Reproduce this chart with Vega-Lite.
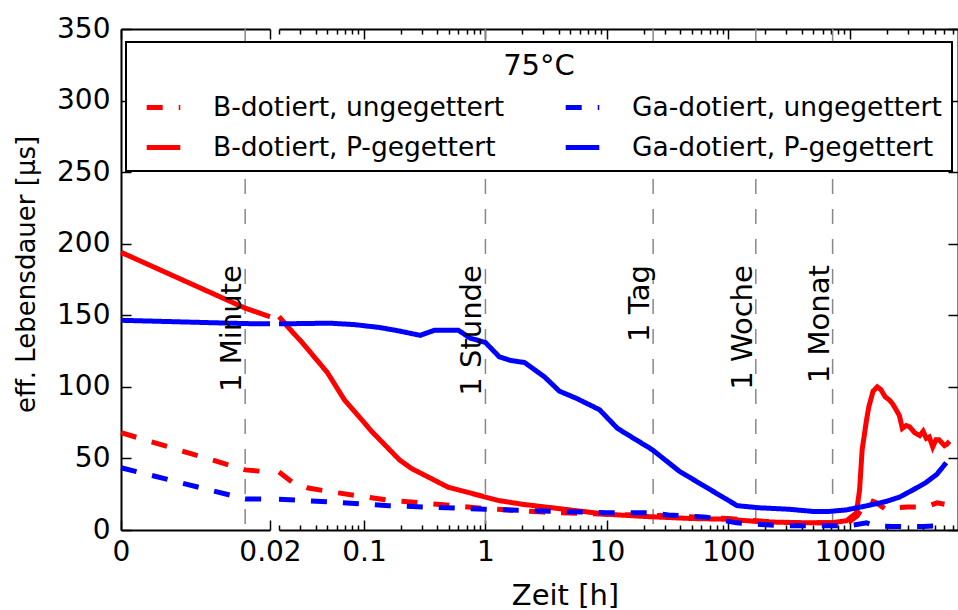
{
  "$schema": "https://vega.github.io/schema/vega-lite/v6.json",
  "padding": {"left": 13, "top": 15, "right": 0, "bottom": 0},
  "background": "white",
  "bounds": "flush",
  "spacing": 9,
  "config": {
    "font": "DejaVu Sans",
    "view": {"stroke": null},
    "axis": {
      "labelFont": "DejaVu Sans", "titleFont": "DejaVu Sans",
      "labelFontSize": 28, "titleFontSize": 29, "titleFontWeight": "normal",
      "labelColor": "black", "titleColor": "black",
      "domainColor": "black", "domainWidth": 2,
      "tickColor": "black", "tickWidth": 1.5,
      "grid": false, "labelFlush": false, "labelOverlap": false
    },
    "legend": {
      "titleFont": "DejaVu Sans", "titleFontSize": 29, "titleFontWeight": "normal", "titleColor": "black",
      "titleAnchor": "middle", "titleAlign": "center", "titlePadding": 7,
      "labelFont": "DejaVu Sans", "labelFontSize": 26.5, "labelColor": "black", "labelOffset": 30, "labelLimit": 0,
      "symbolType": "stroke", "symbolSize": 1129, "symbolStrokeWidth": 5, "symbolOffset": 8,
      "columnPadding": 50, "rowPadding": 7, "padding": 10,
      "fillColor": "white", "strokeColor": "black", "strokeWidth": 2, "cornerRadius": 0
    }
  },
  "datasets": {
    "events": [
      {"t": 0.0166667, "label": "1 Minute"},
      {"t": 1, "label": "1 Stunde"},
      {"t": 24, "label": "1 Tag"},
      {"t": 168, "label": "1 Woche"},
      {"t": 720, "label": "1 Monat"}
    ],
    "curves": [
      {"s": "B-dotiert, P-gegettert", "t": 0, "v": 194},
      {"s": "B-dotiert, P-gegettert", "t": 0.0166667, "v": 155},
      {"s": "B-dotiert, P-gegettert", "t": 0.02, "v": 149},
      {"s": "B-dotiert, P-gegettert", "t": 0.026, "v": 138},
      {"s": "B-dotiert, P-gegettert", "t": 0.031, "v": 131},
      {"s": "B-dotiert, P-gegettert", "t": 0.05, "v": 110},
      {"s": "B-dotiert, P-gegettert", "t": 0.069, "v": 91},
      {"s": "B-dotiert, P-gegettert", "t": 0.117, "v": 68.5},
      {"s": "B-dotiert, P-gegettert", "t": 0.196, "v": 49},
      {"s": "B-dotiert, P-gegettert", "t": 0.246, "v": 43},
      {"s": "B-dotiert, P-gegettert", "t": 0.49, "v": 30},
      {"s": "B-dotiert, P-gegettert", "t": 1, "v": 23},
      {"s": "B-dotiert, P-gegettert", "t": 1.3, "v": 20.5},
      {"s": "B-dotiert, P-gegettert", "t": 2, "v": 18},
      {"s": "B-dotiert, P-gegettert", "t": 5, "v": 14},
      {"s": "B-dotiert, P-gegettert", "t": 10, "v": 11},
      {"s": "B-dotiert, P-gegettert", "t": 20, "v": 9.5},
      {"s": "B-dotiert, P-gegettert", "t": 50, "v": 8},
      {"s": "B-dotiert, P-gegettert", "t": 100, "v": 7.5},
      {"s": "B-dotiert, P-gegettert", "t": 180, "v": 5.8},
      {"s": "B-dotiert, P-gegettert", "t": 400, "v": 5},
      {"s": "B-dotiert, P-gegettert", "t": 700, "v": 5},
      {"s": "B-dotiert, P-gegettert", "t": 940, "v": 6.5},
      {"s": "B-dotiert, P-gegettert", "t": 1130, "v": 12},
      {"s": "B-dotiert, P-gegettert", "t": 1200, "v": 28},
      {"s": "B-dotiert, P-gegettert", "t": 1260, "v": 56},
      {"s": "B-dotiert, P-gegettert", "t": 1370, "v": 77},
      {"s": "B-dotiert, P-gegettert", "t": 1430, "v": 86},
      {"s": "B-dotiert, P-gegettert", "t": 1550, "v": 97},
      {"s": "B-dotiert, P-gegettert", "t": 1680, "v": 100},
      {"s": "B-dotiert, P-gegettert", "t": 1800, "v": 98},
      {"s": "B-dotiert, P-gegettert", "t": 1950, "v": 93},
      {"s": "B-dotiert, P-gegettert", "t": 2100, "v": 91},
      {"s": "B-dotiert, P-gegettert", "t": 2250, "v": 88},
      {"s": "B-dotiert, P-gegettert", "t": 2400, "v": 84},
      {"s": "B-dotiert, P-gegettert", "t": 2550, "v": 80},
      {"s": "B-dotiert, P-gegettert", "t": 2700, "v": 71},
      {"s": "B-dotiert, P-gegettert", "t": 2900, "v": 73},
      {"s": "B-dotiert, P-gegettert", "t": 3100, "v": 72},
      {"s": "B-dotiert, P-gegettert", "t": 3400, "v": 68},
      {"s": "B-dotiert, P-gegettert", "t": 3750, "v": 66},
      {"s": "B-dotiert, P-gegettert", "t": 4000, "v": 69},
      {"s": "B-dotiert, P-gegettert", "t": 4250, "v": 64},
      {"s": "B-dotiert, P-gegettert", "t": 4500, "v": 65},
      {"s": "B-dotiert, P-gegettert", "t": 4800, "v": 58},
      {"s": "B-dotiert, P-gegettert", "t": 5100, "v": 63},
      {"s": "B-dotiert, P-gegettert", "t": 5400, "v": 63},
      {"s": "B-dotiert, P-gegettert", "t": 5700, "v": 61},
      {"s": "B-dotiert, P-gegettert", "t": 6000, "v": 59},
      {"s": "B-dotiert, P-gegettert", "t": 6300, "v": 60},
      {"s": "B-dotiert, P-gegettert", "t": 6600, "v": 62},

      {"s": "B-dotiert, ungegettert", "t": 0, "v": 68},
      {"s": "B-dotiert, ungegettert", "t": 0.0166667, "v": 42},
      {"s": "B-dotiert, ungegettert", "t": 0.02, "v": 40.5},
      {"s": "B-dotiert, ungegettert", "t": 0.026, "v": 33},
      {"s": "B-dotiert, ungegettert", "t": 0.034, "v": 29.5},
      {"s": "B-dotiert, ungegettert", "t": 0.055, "v": 26.5},
      {"s": "B-dotiert, ungegettert", "t": 0.153, "v": 21},
      {"s": "B-dotiert, ungegettert", "t": 0.4, "v": 18},
      {"s": "B-dotiert, ungegettert", "t": 1, "v": 15},
      {"s": "B-dotiert, ungegettert", "t": 3, "v": 12.5},
      {"s": "B-dotiert, ungegettert", "t": 10, "v": 11},
      {"s": "B-dotiert, ungegettert", "t": 30, "v": 10},
      {"s": "B-dotiert, ungegettert", "t": 100, "v": 8},
      {"s": "B-dotiert, ungegettert", "t": 200, "v": 6},
      {"s": "B-dotiert, ungegettert", "t": 400, "v": 5},
      {"s": "B-dotiert, ungegettert", "t": 800, "v": 5},
      {"s": "B-dotiert, ungegettert", "t": 1000, "v": 6},
      {"s": "B-dotiert, ungegettert", "t": 1150, "v": 10},
      {"s": "B-dotiert, ungegettert", "t": 1300, "v": 17},
      {"s": "B-dotiert, ungegettert", "t": 1450, "v": 21},
      {"s": "B-dotiert, ungegettert", "t": 1650, "v": 19},
      {"s": "B-dotiert, ungegettert", "t": 2000, "v": 14},
      {"s": "B-dotiert, ungegettert", "t": 2400, "v": 15.5},
      {"s": "B-dotiert, ungegettert", "t": 3000, "v": 16},
      {"s": "B-dotiert, ungegettert", "t": 4000, "v": 16},
      {"s": "B-dotiert, ungegettert", "t": 4500, "v": 17},
      {"s": "B-dotiert, ungegettert", "t": 5200, "v": 19},
      {"s": "B-dotiert, ungegettert", "t": 6000, "v": 18},

      {"s": "Ga-dotiert, ungegettert", "t": 0, "v": 43.5},
      {"s": "Ga-dotiert, ungegettert", "t": 0.0166667, "v": 21.7},
      {"s": "Ga-dotiert, ungegettert", "t": 0.02, "v": 21.5},
      {"s": "Ga-dotiert, ungegettert", "t": 0.055, "v": 19.5},
      {"s": "Ga-dotiert, ungegettert", "t": 0.16, "v": 17},
      {"s": "Ga-dotiert, ungegettert", "t": 1, "v": 14.5},
      {"s": "Ga-dotiert, ungegettert", "t": 10, "v": 12},
      {"s": "Ga-dotiert, ungegettert", "t": 24, "v": 12},
      {"s": "Ga-dotiert, ungegettert", "t": 32, "v": 10.5},
      {"s": "Ga-dotiert, ungegettert", "t": 66, "v": 9},
      {"s": "Ga-dotiert, ungegettert", "t": 116, "v": 5},
      {"s": "Ga-dotiert, ungegettert", "t": 260, "v": 3},
      {"s": "Ga-dotiert, ungegettert", "t": 700, "v": 3},
      {"s": "Ga-dotiert, ungegettert", "t": 1000, "v": 3},
      {"s": "Ga-dotiert, ungegettert", "t": 1370, "v": 5},
      {"s": "Ga-dotiert, ungegettert", "t": 1600, "v": 3},
      {"s": "Ga-dotiert, ungegettert", "t": 2200, "v": 2.5},
      {"s": "Ga-dotiert, ungegettert", "t": 4000, "v": 2.5},
      {"s": "Ga-dotiert, ungegettert", "t": 6000, "v": 3},

      {"s": "Ga-dotiert, P-gegettert", "t": 0, "v": 146.5},
      {"s": "Ga-dotiert, P-gegettert", "t": 0.0166667, "v": 144.2},
      {"s": "Ga-dotiert, P-gegettert", "t": 0.02, "v": 144},
      {"s": "Ga-dotiert, P-gegettert", "t": 0.052, "v": 144.5},
      {"s": "Ga-dotiert, P-gegettert", "t": 0.083, "v": 143.5},
      {"s": "Ga-dotiert, P-gegettert", "t": 0.134, "v": 141.5},
      {"s": "Ga-dotiert, P-gegettert", "t": 0.196, "v": 139},
      {"s": "Ga-dotiert, P-gegettert", "t": 0.29, "v": 136},
      {"s": "Ga-dotiert, P-gegettert", "t": 0.38, "v": 139.5},
      {"s": "Ga-dotiert, P-gegettert", "t": 0.6, "v": 139.5},
      {"s": "Ga-dotiert, P-gegettert", "t": 0.75, "v": 134},
      {"s": "Ga-dotiert, P-gegettert", "t": 1, "v": 131},
      {"s": "Ga-dotiert, P-gegettert", "t": 1.3, "v": 121},
      {"s": "Ga-dotiert, P-gegettert", "t": 1.6, "v": 118.5},
      {"s": "Ga-dotiert, P-gegettert", "t": 2.1, "v": 117},
      {"s": "Ga-dotiert, P-gegettert", "t": 3.06, "v": 107},
      {"s": "Ga-dotiert, P-gegettert", "t": 4.06, "v": 97},
      {"s": "Ga-dotiert, P-gegettert", "t": 5.6, "v": 92},
      {"s": "Ga-dotiert, P-gegettert", "t": 8.7, "v": 84},
      {"s": "Ga-dotiert, P-gegettert", "t": 12.2, "v": 71},
      {"s": "Ga-dotiert, P-gegettert", "t": 23.7, "v": 56},
      {"s": "Ga-dotiert, P-gegettert", "t": 39.5, "v": 41},
      {"s": "Ga-dotiert, P-gegettert", "t": 118, "v": 17},
      {"s": "Ga-dotiert, P-gegettert", "t": 180, "v": 15.5},
      {"s": "Ga-dotiert, P-gegettert", "t": 316, "v": 14.5},
      {"s": "Ga-dotiert, P-gegettert", "t": 490, "v": 13},
      {"s": "Ga-dotiert, P-gegettert", "t": 680, "v": 13},
      {"s": "Ga-dotiert, P-gegettert", "t": 930, "v": 14},
      {"s": "Ga-dotiert, P-gegettert", "t": 1390, "v": 17},
      {"s": "Ga-dotiert, P-gegettert", "t": 2000, "v": 20},
      {"s": "Ga-dotiert, P-gegettert", "t": 2560, "v": 23},
      {"s": "Ga-dotiert, P-gegettert", "t": 3300, "v": 28},
      {"s": "Ga-dotiert, P-gegettert", "t": 4200, "v": 33},
      {"s": "Ga-dotiert, P-gegettert", "t": 5200, "v": 39},
      {"s": "Ga-dotiert, P-gegettert", "t": 6200, "v": 47}
    ]
  },
  "hconcat": [
    {
      "width": 149,
      "height": 501,
      "layer": [
        {
          "data": {"name": "events"},
          "transform": [{"filter": "datum.t < 0.02"}],
          "mark": {"type": "rule", "stroke": "#888888", "strokeWidth": 1.5, "strokeDash": [15, 15]},
          "encoding": {
            "x": {"field": "t", "type": "quantitative",
                  "scale": {"domain": [0, 0.02], "nice": false, "zero": false},
                  "axis": {"orient": "top", "values": [0, 0.02], "labels": false, "tickSize": -10, "title": null}}
          }
        },
        {
          "data": {"name": "curves"},
          "transform": [{"filter": "datum.t <= 0.02"}],
          "mark": {"type": "line", "strokeWidth": 5, "strokeCap": "butt"},
          "encoding": {
            "x": {"field": "t", "type": "quantitative",
                  "axis": {"orient": "bottom", "values": [0, 0.02], "labelExpr": "format(datum.value, '~g')", "tickSize": -10, "labelPadding": 18, "title": null}},
            "y": {"field": "v", "type": "quantitative",
                  "scale": {"domain": [0, 350], "nice": false},
                  "axis": {"orient": "left", "values": [0, 50, 100, 150, 200, 250, 300, 350], "tickSize": -10, "labelPadding": 21,
                           "title": "eff. Lebensdauer [µs]", "titleFontSize": 26, "titleX": -87, "titleY": 245, "titleBaseline": "alphabetic"}},
            "color": {"field": "s", "type": "nominal",
                      "scale": {"domain": ["B-dotiert, ungegettert", "B-dotiert, P-gegettert", "Ga-dotiert, ungegettert", "Ga-dotiert, P-gegettert"],
                                "range": ["#ff0000", "#ff0000", "#0000ff", "#0000ff"]},
                      "legend": {"title": "75°C", "orient": "none", "legendX": 5, "legendY": 13, "columns": 2}},
            "strokeDash": {"field": "s", "type": "nominal",
                      "scale": {"domain": ["B-dotiert, ungegettert", "B-dotiert, P-gegettert", "Ga-dotiert, ungegettert", "Ga-dotiert, P-gegettert"],
                                "range": [[16, 16], [1, 0], [16, 16], [1, 0]]},
                      "legend": {"title": "75°C", "orient": "none", "legendX": 5, "legendY": 13, "columns": 2}}
          }
        },
        {
          "data": {"name": "events"},
          "transform": [{"filter": "datum.t < 0.02"}],
          "mark": {"type": "text", "angle": 270, "align": "right", "baseline": "alphabetic", "dy": -4, "fontSize": 29, "font": "DejaVu Sans", "color": "black"},
          "encoding": {
            "x": {"field": "t", "type": "quantitative", "axis": null},
            "y": {"datum": 185, "type": "quantitative"},
            "text": {"field": "label"}
          }
        }
      ],
      "resolve": {"axis": {"x": "independent"}}
    },
    {
      "width": 679,
      "height": 501,
      "layer": [
        {
          "data": {"name": "events"},
          "transform": [{"filter": "datum.t > 0.02"}],
          "mark": {"type": "rule", "stroke": "#888888", "strokeWidth": 1.5, "strokeDash": [15, 15]},
          "encoding": {
            "x": {"field": "t", "type": "quantitative",
                  "scale": {"type": "log", "domain": [0.02, 7750], "nice": false},
                  "axis": {"orient": "top", "labels": false, "title": null,
                           "values": [0.02,0.03,0.04,0.05,0.06,0.07,0.08,0.09,0.1,0.2,0.3,0.4,0.5,0.6,0.7,0.8,0.9,1,2,3,4,5,6,7,8,9,10,20,30,40,50,60,70,80,90,100,200,300,400,500,600,700,800,900,1000,2000,3000,4000,5000,6000,7000],
                           "tickSize": {"condition": {"test": "indexof([0.1,1,10,100,1000], datum.value) >= 0", "value": -10}, "value": -5}}}
          }
        },
        {
          "data": {"name": "curves"},
          "transform": [{"filter": "datum.t >= 0.02"}],
          "mark": {"type": "line", "strokeWidth": 5, "strokeCap": "butt"},
          "encoding": {
            "x": {"field": "t", "type": "quantitative",
                  "axis": {"orient": "bottom",
                           "values": [0.02,0.03,0.04,0.05,0.06,0.07,0.08,0.09,0.1,0.2,0.3,0.4,0.5,0.6,0.7,0.8,0.9,1,2,3,4,5,6,7,8,9,10,20,30,40,50,60,70,80,90,100,200,300,400,500,600,700,800,900,1000,2000,3000,4000,5000,6000,7000],
                           "labelExpr": "indexof([0.1,1,10,100,1000], datum.value) >= 0 ? format(datum.value, '~g') : ''",
                           "tickSize": {"condition": {"test": "indexof([0.1,1,10,100,1000], datum.value) >= 0", "value": -10}, "value": -5},
                           "labelPadding": 18,
                           "title": "Zeit [h]", "titleX": 286, "titleY": 74, "titleAlign": "center", "titleBaseline": "alphabetic"}},
            "y": {"field": "v", "type": "quantitative",
                  "scale": {"domain": [0, 350], "nice": false},
                  "axis": {"orient": "right", "values": [0, 50, 100, 150, 200, 250, 300, 350], "tickSize": -10, "labels": false, "title": null}},
            "color": {"field": "s", "type": "nominal",
                      "scale": {"domain": ["B-dotiert, ungegettert", "B-dotiert, P-gegettert", "Ga-dotiert, ungegettert", "Ga-dotiert, P-gegettert"],
                                "range": ["#ff0000", "#ff0000", "#0000ff", "#0000ff"]},
                      "legend": {"title": "75°C", "orient": "none", "legendX": 5, "legendY": 13, "columns": 2}},
            "strokeDash": {"field": "s", "type": "nominal",
                      "scale": {"domain": ["B-dotiert, ungegettert", "B-dotiert, P-gegettert", "Ga-dotiert, ungegettert", "Ga-dotiert, P-gegettert"],
                                "range": [[16, 16], [1, 0], [16, 16], [1, 0]]},
                      "legend": {"title": "75°C", "orient": "none", "legendX": 5, "legendY": 13, "columns": 2}}
          }
        },
        {
          "data": {"name": "events"},
          "transform": [{"filter": "datum.t > 0.02"}],
          "mark": {"type": "text", "angle": 270, "align": "right", "baseline": "alphabetic", "dy": -4, "fontSize": 29, "font": "DejaVu Sans", "color": "black"},
          "encoding": {
            "x": {"field": "t", "type": "quantitative", "axis": null},
            "y": {"datum": 185, "type": "quantitative"},
            "text": {"field": "label"}
          }
        }
      ],
      "resolve": {"axis": {"x": "independent"}}
    }
  ]
}
